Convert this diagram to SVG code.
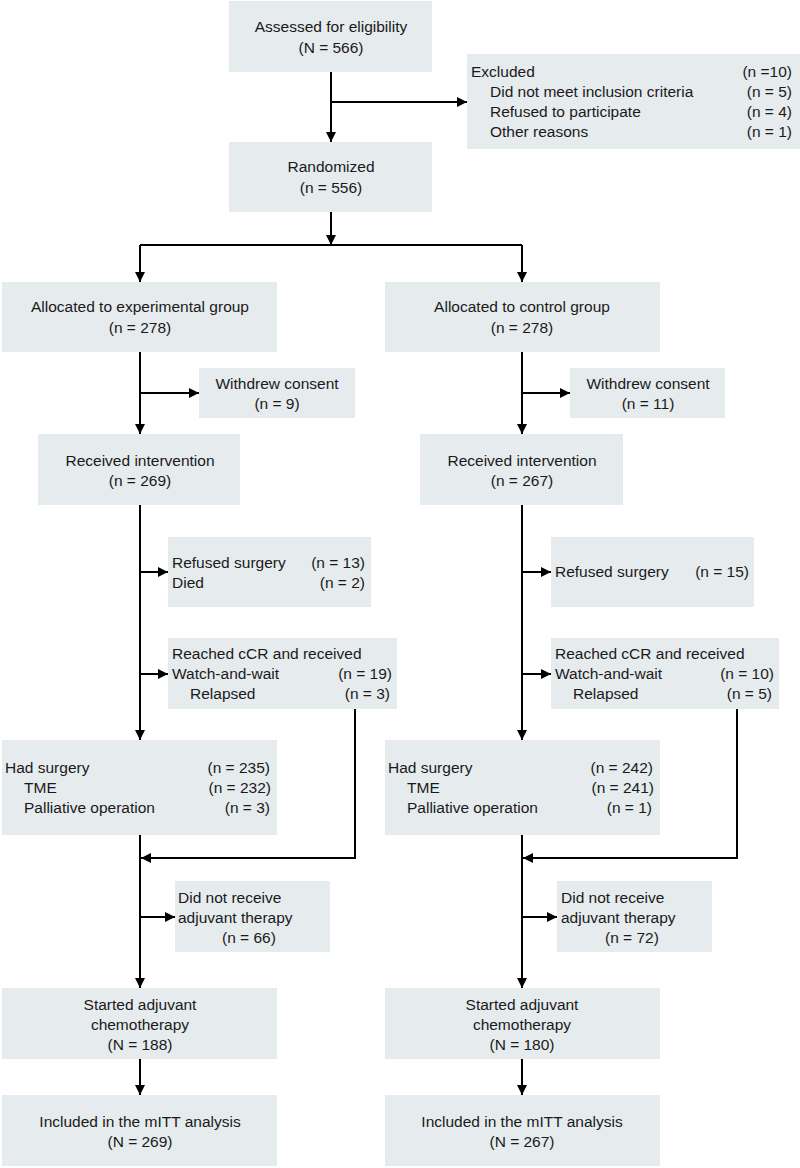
<svg xmlns="http://www.w3.org/2000/svg" width="800" height="1168" viewBox="0 0 800 1168">
<style>
.b{fill:#e6ebee}
text{font-family:"Liberation Sans",Arial,sans-serif;font-size:15.5px;fill:#1a1a1a}
.c{text-anchor:middle}
.e{text-anchor:end}
.l{stroke:#000;stroke-width:2;fill:none}
</style>
<defs><marker id="a" markerUnits="userSpaceOnUse" markerWidth="11" markerHeight="10" refX="10" refY="5" orient="auto"><path d="M0,0 L10,5 L0,10 z" fill="#000"/></marker></defs>
<rect width="800" height="1168" fill="#fff"/>
<g id="connectors">
<path class="l" d="M331,72 V142" marker-end="url(#a)"/>
<path class="l" d="M331,102 H467" marker-end="url(#a)"/>
<path class="l" d="M331,212 V245" marker-end="url(#a)"/>
<path class="l" d="M140,245 H522"/>
<path class="l" d="M140,245 V282" marker-end="url(#a)"/>
<path class="l" d="M522,245 V282" marker-end="url(#a)"/>
<path class="l" d="M140,352 V434" marker-end="url(#a)"/>
<path class="l" d="M140,393 H199" marker-end="url(#a)"/>
<path class="l" d="M522,352 V434" marker-end="url(#a)"/>
<path class="l" d="M522,393 H570" marker-end="url(#a)"/>
<path class="l" d="M140,505 V740" marker-end="url(#a)"/>
<path class="l" d="M140,572 H168" marker-end="url(#a)"/>
<path class="l" d="M140,674 H168" marker-end="url(#a)"/>
<path class="l" d="M522,505 V740" marker-end="url(#a)"/>
<path class="l" d="M522,572 H551" marker-end="url(#a)"/>
<path class="l" d="M522,674 H551" marker-end="url(#a)"/>
<path class="l" d="M355,709 V858 H141" marker-end="url(#a)"/>
<path class="l" d="M737,709 V858 H523" marker-end="url(#a)"/>
<path class="l" d="M140,835 V988" marker-end="url(#a)"/>
<path class="l" d="M140,917 H175" marker-end="url(#a)"/>
<path class="l" d="M522,835 V988" marker-end="url(#a)"/>
<path class="l" d="M522,917 H557" marker-end="url(#a)"/>
<path class="l" d="M140,1059 V1095" marker-end="url(#a)"/>
<path class="l" d="M522,1059 V1095" marker-end="url(#a)"/>
</g>
<g id="assessed"><rect class="b" x="229" y="1" width="203" height="71"/><text class="c" x="331" y="32">Assessed for eligibility</text><text class="c" x="331" y="53">(N = 566)</text></g>
<g id="excluded"><rect class="b" x="467" y="54" width="335" height="95"/>
<text x="471" y="77">Excluded</text><text class="e" x="792" y="77">(n =10)</text>
<text x="490" y="97">Did not meet inclusion criteria</text><text class="e" x="792" y="97">(n = 5)</text>
<text x="490" y="117">Refused to participate</text><text class="e" x="792" y="117">(n = 4)</text>
<text x="490" y="137">Other reasons</text><text class="e" x="792" y="137">(n = 1)</text></g>
<g id="randomized"><rect class="b" x="229" y="142" width="203" height="70"/><text class="c" x="331" y="172">Randomized</text><text class="c" x="331" y="193">(n = 556)</text></g>
<g id="alloc-exp"><rect class="b" x="2" y="282" width="275" height="70"/><text class="c" x="140" y="312">Allocated to experimental group</text><text class="c" x="140" y="333">(n = 278)</text></g>
<g id="alloc-ctrl"><rect class="b" x="385" y="282" width="275" height="70"/><text class="c" x="522" y="312">Allocated to control group</text><text class="c" x="522" y="333">(n = 278)</text></g>
<g id="withdrew-exp"><rect class="b" x="199" y="368" width="156" height="50"/><text class="c" x="277" y="389">Withdrew consent</text><text class="c" x="277" y="409">(n = 9)</text></g>
<g id="withdrew-ctrl"><rect class="b" x="570" y="368" width="155" height="50"/><text class="c" x="648" y="389">Withdrew consent</text><text class="c" x="648" y="409">(n = 11)</text></g>
<g id="received-exp"><rect class="b" x="38" y="434" width="202" height="71"/><text class="c" x="140" y="466">Received intervention</text><text class="c" x="140" y="486">(n = 269)</text></g>
<g id="received-ctrl"><rect class="b" x="420" y="434" width="203" height="71"/><text class="c" x="522" y="466">Received intervention</text><text class="c" x="522" y="486">(n = 267)</text></g>
<g id="refused-exp"><rect class="b" x="168" y="537" width="203" height="70"/><text x="172" y="568">Refused surgery</text><text class="e" x="365" y="568">(n = 13)</text><text x="172" y="588">Died</text><text class="e" x="365" y="588">(n = 2)</text></g>
<g id="refused-ctrl"><rect class="b" x="551" y="537" width="203" height="70"/><text x="555" y="577">Refused surgery</text><text class="e" x="749" y="577">(n = 15)</text></g>
<g id="reached-exp"><rect class="b" x="168" y="638" width="229" height="71"/><text x="172" y="659">Reached cCR and received</text><text x="172" y="679">Watch-and-wait</text><text class="e" x="392" y="679">(n = 19)</text><text x="190" y="699">Relapsed</text><text class="e" x="390" y="699">(n = 3)</text></g>
<g id="reached-ctrl"><rect class="b" x="551" y="638" width="228" height="71"/><text x="555" y="659">Reached cCR and received</text><text x="555" y="679">Watch-and-wait</text><text class="e" x="774" y="679">(n = 10)</text><text x="573" y="699">Relapsed</text><text class="e" x="772" y="699">(n = 5)</text></g>
<g id="surgery-exp"><rect class="b" x="2" y="740" width="275" height="95"/><text x="5" y="773">Had surgery</text><text class="e" x="270" y="773">(n = 235)</text><text x="24" y="793">TME</text><text class="e" x="271" y="793">(n = 232)</text><text x="24" y="813">Palliative operation</text><text class="e" x="270" y="813">(n = 3)</text></g>
<g id="surgery-ctrl"><rect class="b" x="385" y="740" width="275" height="95"/><text x="388" y="773">Had surgery</text><text class="e" x="653" y="773">(n = 242)</text><text x="407" y="793">TME</text><text class="e" x="654" y="793">(n = 241)</text><text x="407" y="813">Palliative operation</text><text class="e" x="652" y="813">(n = 1)</text></g>
<g id="noadj-exp"><rect class="b" x="175" y="881" width="155" height="71"/><text x="178" y="903">Did not receive</text><text x="178" y="923">adjuvant therapy</text><text x="222" y="943">(n = 66)</text></g>
<g id="noadj-ctrl"><rect class="b" x="557" y="881" width="155" height="71"/><text x="561" y="903">Did not receive</text><text x="561" y="923">adjuvant therapy</text><text x="605" y="943">(n = 72)</text></g>
<g id="started-exp"><rect class="b" x="2" y="988" width="275" height="71"/><text class="c" x="140" y="1010">Started adjuvant</text><text class="c" x="140" y="1030">chemotherapy</text><text class="c" x="140" y="1050">(N = 188)</text></g>
<g id="started-ctrl"><rect class="b" x="385" y="988" width="275" height="71"/><text class="c" x="522" y="1010">Started adjuvant</text><text class="c" x="522" y="1030">chemotherapy</text><text class="c" x="522" y="1050">(N = 180)</text></g>
<g id="included-exp"><rect class="b" x="2" y="1095" width="275" height="71"/><text class="c" x="140" y="1127">Included in the mITT analysis</text><text class="c" x="140" y="1147">(N = 269)</text></g>
<g id="included-ctrl"><rect class="b" x="385" y="1095" width="275" height="71"/><text class="c" x="522" y="1127">Included in the mITT analysis</text><text class="c" x="522" y="1147">(N = 267)</text></g>
</svg>
